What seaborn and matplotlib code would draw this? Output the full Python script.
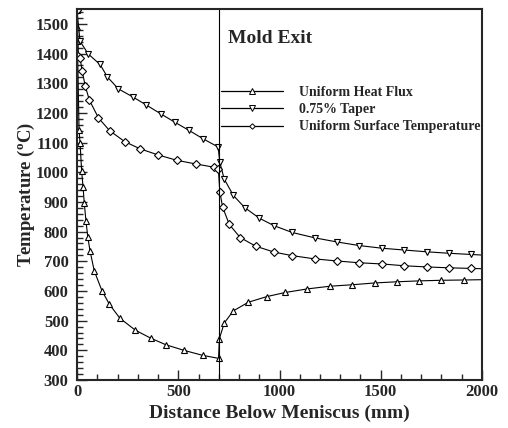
import matplotlib
matplotlib.use("Agg")
import matplotlib.pyplot as plt
import seaborn as sns
import pandas as pd
from matplotlib.ticker import MultipleLocator
from matplotlib.lines import Line2D

# values
flux_x = [0, 0.5, 2, 10, 15, 23, 30, 36, 44, 53, 64, 85, 123, 160, 212, 288, 364,
          438, 528, 621, 699, 703, 727, 772, 846, 937, 1029, 1138, 1249, 1360, 1470,
          1580, 1690, 1799, 1909, 2000]
flux_y = [1545, 1490, 1442, 1141, 1098, 1003, 949, 895, 837, 783, 736, 668, 601, 555,
          508, 468, 441, 419, 400, 383, 373, 439, 492, 533, 562, 581, 595, 607, 616,
          621, 627, 631, 634, 636, 637, 638]

taper_x = [0, 15, 56, 114, 150, 204, 275, 341, 413, 482, 553, 622, 697, 705, 727,
           772, 828, 901, 973, 1063, 1174, 1285, 1394, 1506, 1615, 1727, 1837, 1946,
           2000]
taper_y = [1545, 1441, 1398, 1363, 1321, 1281, 1254, 1227, 1197, 1169, 1141, 1113,
           1085, 1034, 977, 922, 881, 845, 820, 797, 779, 765, 753, 744, 738, 732,
           727, 723, 721]

surf_x = [0, 7, 15, 26, 40, 61, 106, 161, 236, 311, 402, 494, 586, 676, 698, 705,
          719, 752, 806, 882, 973, 1063, 1175, 1285, 1394, 1506, 1615, 1727, 1837,
          1946, 2000]
surf_y = [1545, 1391, 1385, 1340, 1292, 1243, 1183, 1140, 1103, 1079, 1058, 1040,
          1028, 1017, 1012, 935, 883, 824, 780, 751, 731, 719, 708, 701, 695, 691,
          685, 681, 678, 676, 675]

series = ["Uniform Heat Flux", "0.75% Taper", "Uniform Surface Temperature"]
markers = ["^", "v", "D"]
mold_exit = 700

sns.set_style("ticks")
plt.rcParams["font.family"] = ["Liberation Serif", "DejaVu Serif"]
plt.rcParams["font.weight"] = "bold"
plt.rcParams["mathtext.fontset"] = "custom"
plt.rcParams["mathtext.rm"] = "Liberation Serif:bold"
plt.rcParams["mathtext.it"] = "Liberation Serif:bold"
plt.rcParams["mathtext.bf"] = "Liberation Serif:bold"

fig = plt.figure(figsize=(5.08, 4.28), dpi=100)
ax = fig.add_axes([0.1516, 0.1121, 0.7972, 0.8669])

data = [(flux_x, flux_y), (taper_x, taper_y), (surf_x, surf_y)]
handles = []
for (xs, ys), name, m in zip(data, series, markers):
    df = pd.DataFrame({"x": xs, "y": ys})
    ms = 3.8 if m == "D" else 4.8
    sns.lineplot(data=df, x="x", y="y", estimator=None, sort=False, ax=ax,
                 color="black", linewidth=0.8, marker=m, markersize=ms,
                 markerfacecolor="white", markeredgecolor="black",
                 markeredgewidth=0.8, markevery=slice(0, len(xs) - 1))
    handles.append(Line2D([], [], color="black", linewidth=0.9, marker=m,
                          markersize=ms - 1, markerfacecolor="white",
                          markeredgecolor="black", markeredgewidth=0.7))

ax.axvline(mold_exit, color="black", linewidth=0.8)
ax.text(745, 1437, "Mold Exit", fontsize=14, fontweight="bold", va="baseline")

ax.legend(handles, series, loc="upper left", bbox_to_anchor=(0.355, 0.792),
          frameon=False, handlelength=4.5, handletextpad=1.1,
          borderpad=0, borderaxespad=0, labelspacing=0.3,
          prop={"weight": "bold", "size": 10})

ax.set_xlim(0, 2000)
ax.set_ylim(300, 1550)
ax.xaxis.set_major_locator(MultipleLocator(500))
ax.xaxis.set_minor_locator(MultipleLocator(100))
ax.yaxis.set_major_locator(MultipleLocator(100))
ax.yaxis.set_minor_locator(MultipleLocator(20))
ax.set_yticks(range(300, 1501, 100))
ax.tick_params(which="both", direction="in", top=False, right=False,
               labelsize=12, width=1)
ax.tick_params(which="major", length=7)
ax.tick_params(which="minor", length=4)
ax.tick_params(axis="y", which="major", pad=6)
ax.tick_params(axis="x", which="major", pad=3)
for lab in ax.get_xticklabels() + ax.get_yticklabels():
    lab.set_fontweight("bold")
for sp in ax.spines.values():
    sp.set_visible(True)
    sp.set_linewidth(1.5)

ax.set_xlabel("Distance Below Meniscus (mm)", fontsize=14, fontweight="bold",
              labelpad=3)
ax.set_ylabel(r"Temperature ($^{\rm o}$C)", fontsize=13.5, fontweight="bold",
              labelpad=-1)

fig.savefig("out.png", dpi=100)
